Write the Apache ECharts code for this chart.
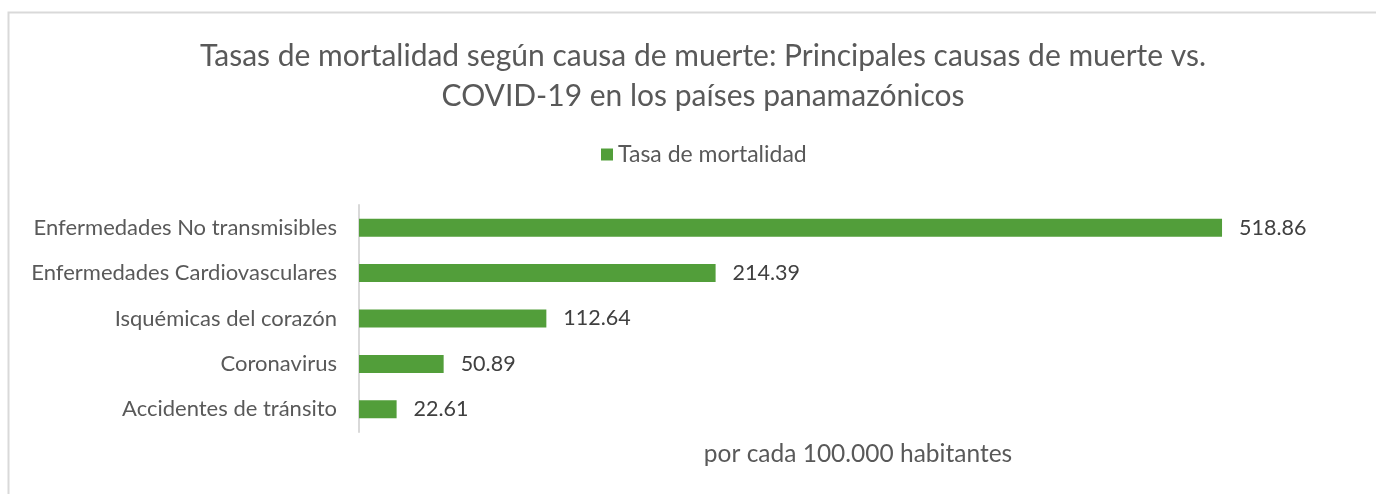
<!DOCTYPE html>
<html>
<head>
<meta charset="utf-8">
<script src="https://cdn.jsdelivr.net/npm/echarts@6/dist/echarts.min.js"></script>
<style>
  html, body { margin: 0; padding: 0; background: #fff; }
  #chart { width: 1376px; height: 494px; }
</style>
</head>
<body>
<div id="chart"></div>
<script>
// datos
const causes = [
  "Accidentes de tránsito",
  "Coronavirus",
  "Isquémicas del corazón",
  "Enfermedades Cardiovasculares",
  "Enfermedades No transmisibles",
];
const rates = [22.61, 50.89, 112.64, 214.39, 518.86];

const textColor = "#595959";
const font = "Lato";

const chart = echarts.init(document.getElementById("chart"));
chart.setOption({
  animation: false,
  graphic: [
    {
      type: "polyline",
      shape: { points: [[8.5, 494], [8.5, 12.5], [1376, 12.5]] },
      style: { stroke: "#d9d9d9", lineWidth: 2, fill: null },
    },
  ],
  title: {
    text: "Tasas de mortalidad según causa de muerte: Principales causas de muerte vs.\nCOVID-19 en los países panamazónicos",
    left: 698,
    top: 31,
    textAlign: "center",
    textStyle: { color: textColor, fontFamily: font, fontSize: 30, fontWeight: "normal", lineHeight: 40 },
  },
  legend: {
    top: 138,
    left: 596,
    itemWidth: 12,
    itemHeight: 12,
    itemGap: 6,
    icon: "rect",
    textStyle: { color: textColor, fontFamily: font, fontSize: 23 },
  },
  grid: { left: 359, top: 205, width: 998, height: 227, containLabel: false },
  xAxis: {
    type: "value",
    min: 0,
    max: 600,
    axisLabel: { show: false },
    splitLine: { show: false },
    axisLine: { show: false },
    axisTick: { show: false },
    name: "por cada 100.000 habitantes",
    nameLocation: "middle",
    nameGap: 10,
    nameTextStyle: { color: textColor, fontFamily: font, fontSize: 24.5 },
  },
  yAxis: {
    type: "category",
    data: causes,
    axisLine: { show: true, lineStyle: { color: "#d9d9d9", width: 2 } },
    axisTick: { show: false },
    axisLabel: { color: textColor, fontFamily: font, fontSize: 22, margin: 22 },
  },
  series: [
    {
      name: "Tasa de mortalidad",
      type: "bar",
      data: rates,
      barWidth: 18,
      itemStyle: { color: "#529e3a" },
      label: {
        show: true,
        position: "right",
        distance: 17,
        color: "#404040",
        fontFamily: font,
        fontSize: 21.5,
        formatter: (p) => p.value.toFixed(2),
      },
    },
  ],
});
</script>
</body>
</html>
